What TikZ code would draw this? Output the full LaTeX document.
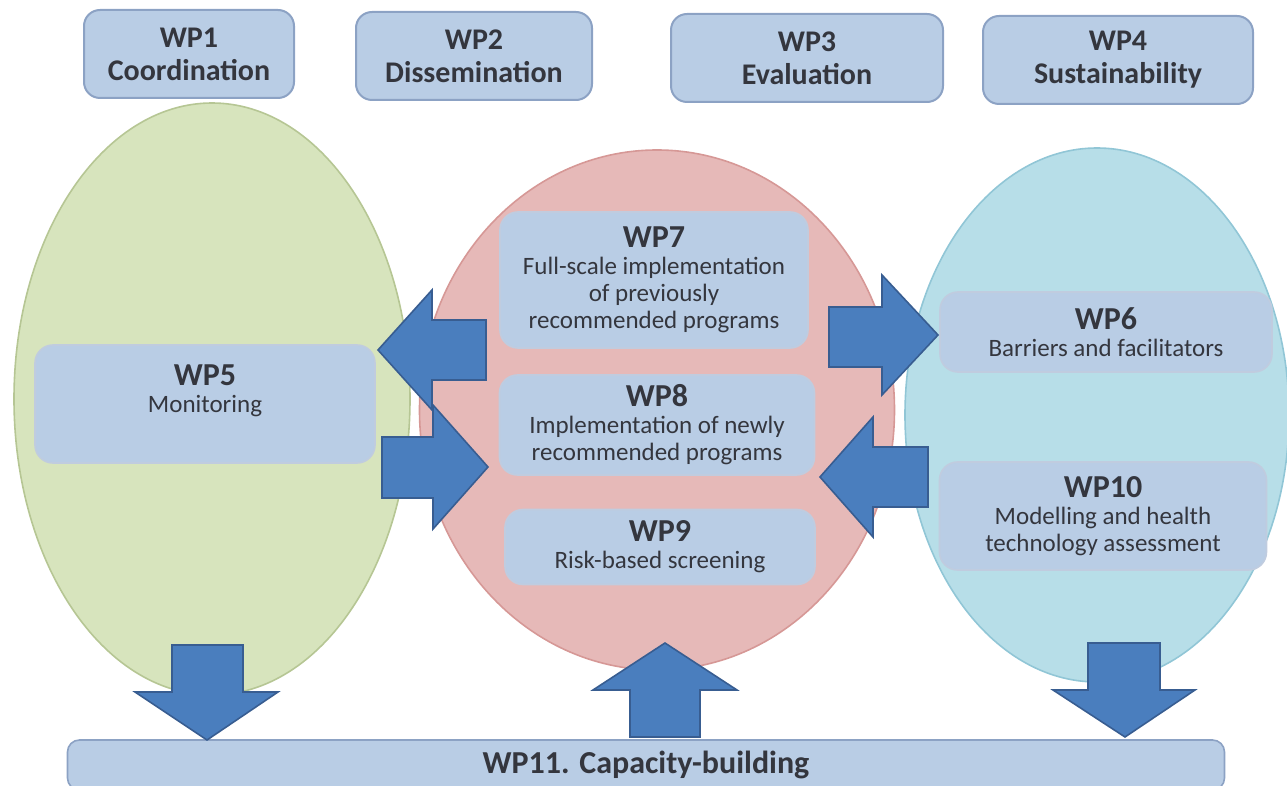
\documentclass[tikz,border=0pt]{standalone}
\usepackage{fontspec}
\setmainfont{Carlito}
\usepackage{tikz}
\usetikzlibrary{shapes.geometric}

\definecolor{boxblue}{RGB}{185,205,229}
\definecolor{boxline}{RGB}{140,162,196}
\definecolor{wpgreen}{RGB}{215,228,189}
\definecolor{wpgreenline}{RGB}{182,198,148}
\definecolor{wppink}{RGB}{230,185,184}
\definecolor{wppinkline}{RGB}{214,152,150}
\definecolor{wpcyan}{RGB}{183,222,232}
\definecolor{wpcyanline}{RGB}{145,198,214}
\definecolor{arrowblue}{RGB}{74,126,190}
\definecolor{arrowline}{RGB}{56,93,145}
\definecolor{wptext}{RGB}{52,54,62}

\newcommand{\wptitle}[1]{{\fontsize{16}{17}\selectfont\bfseries #1}}

\begin{document}
\begin{tikzpicture}[x=0.5pt,y=-0.5pt,text=wptext,
		head box/.style={rectangle,rounded corners=8pt,draw=boxline,fill=boxblue,line width=1pt,
			align=center,font=\fontsize{15}{16.5}\selectfont\bfseries},
		wp box/.style={rectangle,rounded corners=9pt,draw=boxline!55,fill=boxblue,line width=0.8pt,
			align=center,inner sep=0pt,font=\fontsize{12.5}{13.5}\selectfont},
		cluster/.style={ellipse,line width=0.8pt,inner sep=0pt},
		block arrow/.style={fill=arrowblue,draw=arrowline,line width=0.8pt}]
		
		\useasboundingbox (0,0) rectangle (1287,786);
		
		% work packages on top
		\node[head box,minimum width=105pt,minimum height=44pt] (wp1) at (189,54) {WP1\\Coordination};
		\node[head box,minimum width=118pt,minimum height=44pt] (wp2) at (474,56) {WP2\\Dissemination};
		\node[head box,minimum width=136pt,minimum height=44pt] (wp3) at (807,58) {WP3\\Evaluation};
		\node[head box,minimum width=135pt,minimum height=44pt] (wp4) at (1118,60) {WP4\\Sustainability};
		
		% the three groups
		\node[cluster,draw=wpgreenline,fill=wpgreen,minimum width=198pt,minimum height=296pt] (monitor) at (212,399) {};
		\node[cluster,draw=wppinkline,fill=wppink,minimum width=237.5pt,minimum height=260pt] (implement) at (657,410) {};
		\node[cluster,draw=wpcyanline,fill=wpcyan,minimum width=192pt,minimum height=267pt] (assess) at (1097,415) {};
		
		\node[wp box,minimum width=170pt,minimum height=59pt,text depth=15pt] (wp5) at (205,404) {\wptitle{WP5}\\Monitoring};
		\node[wp box,minimum width=154pt,minimum height=68pt] (wp7) at (654,280) {\wptitle{WP7}\\Full-scale implementation\\of previously\\recommended programs};
		\node[wp box,minimum width=157.5pt,minimum height=50pt] (wp8) at (657,425) {\wptitle{WP8}\\Implementation of newly\\recommended programs};
		\node[wp box,minimum width=155pt,minimum height=37.5pt] (wp9) at (660,547) {\wptitle{WP9}\\Risk-based screening};
		\node[wp box,minimum width=166pt,minimum height=40pt] (wp6) at (1106,332) {\wptitle{WP6}\\Barriers and facilitators};
		\node[wp box,minimum width=163.5pt,minimum height=54pt] (wp10) at (1103,516) {\wptitle{WP10}\\Modelling and health\\technology assessment};
		
		\node[wp box,draw=boxline,rounded corners=6pt,minimum width=578.5pt,minimum height=25pt,
			font=\fontsize{16}{17}\selectfont\bfseries] (wp11) at (646,765) {WP11. Capacity-building};
		
		% block arrows
		\filldraw[block arrow] (378,350) -- (432,290) -- (432,320) -- (486,320) -- (486,380) -- (432,380) -- (432,410) -- cycle;
		\filldraw[block arrow] (488,467) -- (433,405) -- (433,437) -- (382,437) -- (382,498) -- (433,498) -- (433,529) -- cycle;
		\filldraw[block arrow] (938,335) -- (882,275) -- (882,307) -- (829,307) -- (829,367) -- (882,367) -- (882,395) -- cycle;
		\filldraw[block arrow] (820,477) -- (873,417) -- (873,447) -- (928,447) -- (928,507) -- (873,507) -- (873,537) -- cycle;
		\filldraw[block arrow] (207,740) -- (135,692) -- (172,692) -- (172,645) -- (243,645) -- (243,692) -- (278,692) -- cycle;
		\filldraw[block arrow] (665,643) -- (737,690) -- (700,690) -- (700,737) -- (630,737) -- (630,690) -- (593,690) -- cycle;
		\filldraw[block arrow] (1125,737) -- (1053,690) -- (1088,690) -- (1088,643) -- (1160,643) -- (1160,690) -- (1195,690) -- cycle;
		
\end{tikzpicture}
\end{document}
